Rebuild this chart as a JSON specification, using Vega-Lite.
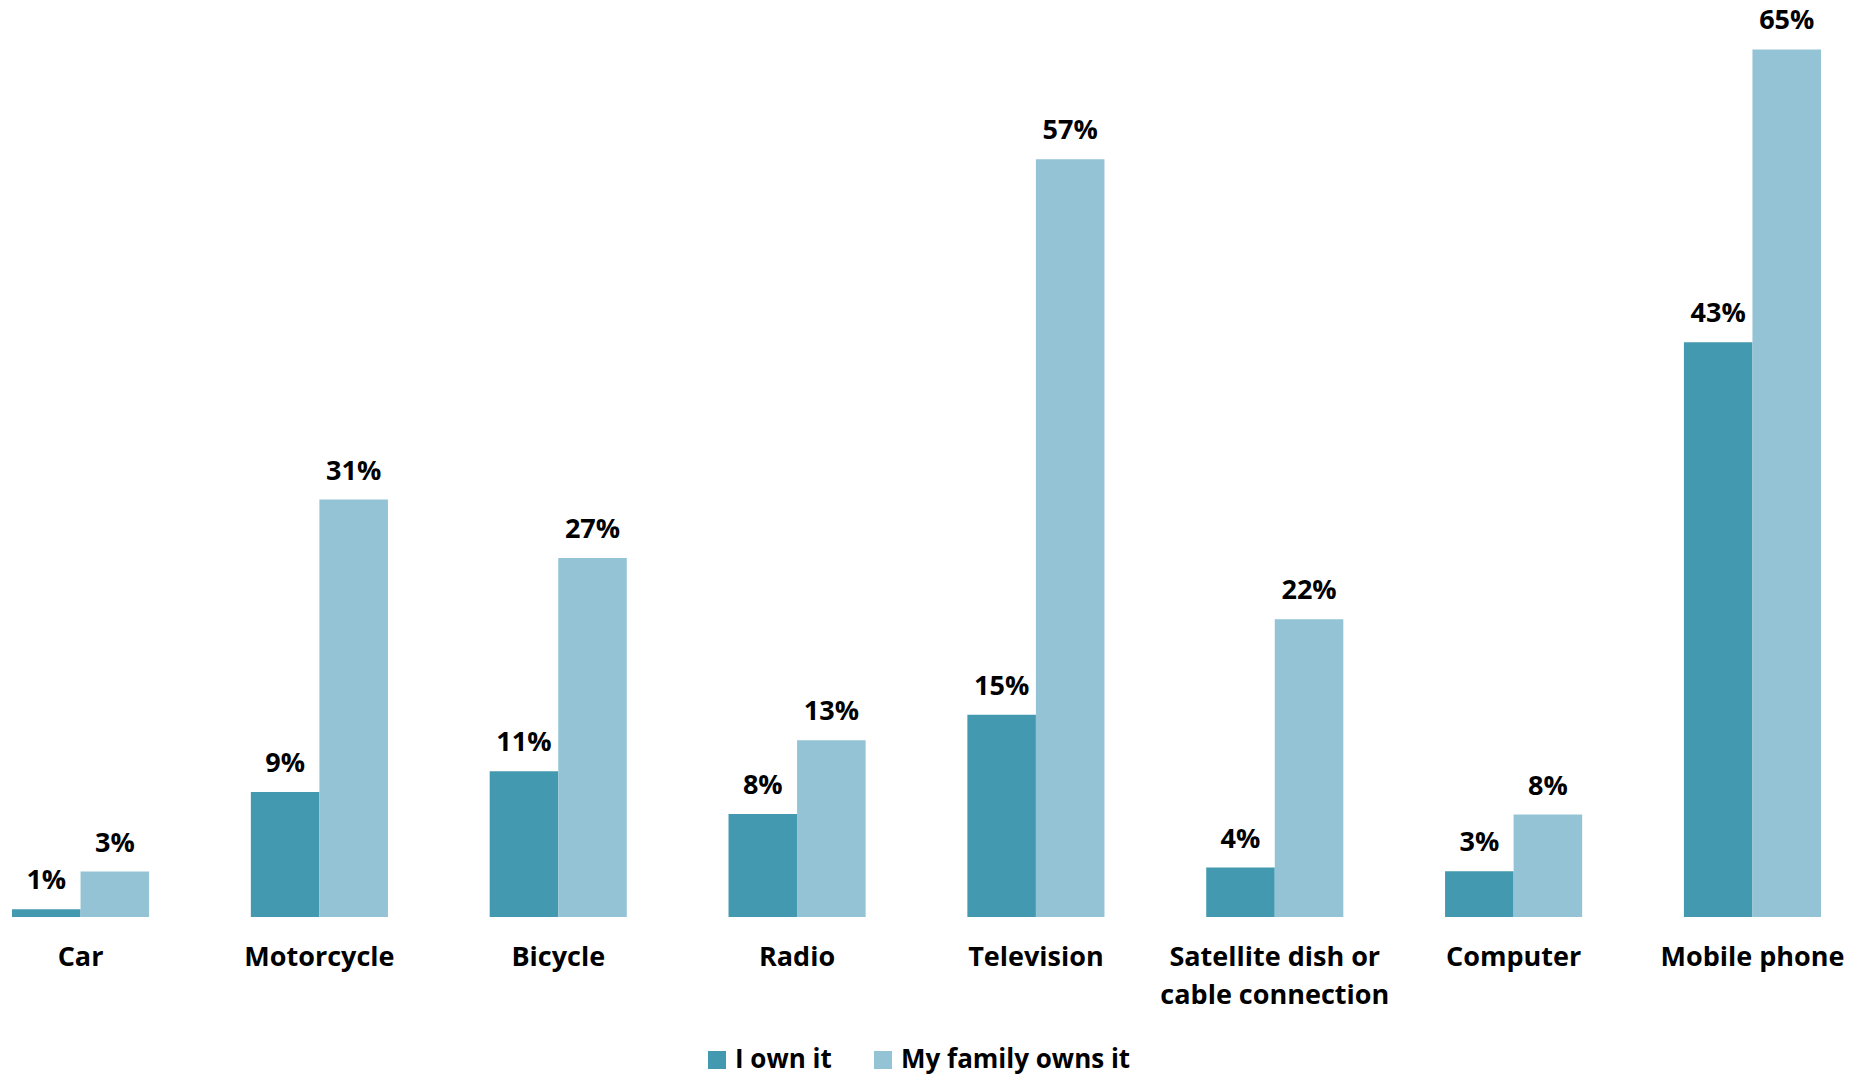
{
  "$schema": "https://vega.github.io/schema/vega-lite/v6.json",
  "autosize": {"type": "none"},
  "padding": {"left": 12, "top": 0, "right": 49, "bottom": 161},
  "width": 1809,
  "height": 917,
  "background": "white",
  "config": {
    "view": {"stroke": null},
    "font": "Open Sans"
  },
  "data": {
    "values": [
      {"item": "Car", "series": "I own it", "value": 0.0058},
      {"item": "Car", "series": "My family owns it", "value": 0.034},
      {"item": "Motorcycle", "series": "I own it", "value": 0.0936},
      {"item": "Motorcycle", "series": "My family owns it", "value": 0.3127},
      {"item": "Bicycle", "series": "I own it", "value": 0.1091},
      {"item": "Bicycle", "series": "My family owns it", "value": 0.2689},
      {"item": "Radio", "series": "I own it", "value": 0.0772},
      {"item": "Radio", "series": "My family owns it", "value": 0.1324},
      {"item": "Television", "series": "I own it", "value": 0.1516},
      {"item": "Television", "series": "My family owns it", "value": 0.5676},
      {"item": "Satellite dish or cable connection", "series": "I own it", "value": 0.037},
      {"item": "Satellite dish or cable connection", "series": "My family owns it", "value": 0.223},
      {"item": "Computer", "series": "I own it", "value": 0.0342},
      {"item": "Computer", "series": "My family owns it", "value": 0.0767},
      {"item": "Mobile phone", "series": "I own it", "value": 0.4305},
      {"item": "Mobile phone", "series": "My family owns it", "value": 0.65}
    ]
  },
  "encoding": {
    "x": {
      "field": "item",
      "type": "nominal",
      "sort": null,
      "scale": {"paddingInner": 0.426, "paddingOuter": 0},
      "axis": {
        "title": null,
        "domain": false,
        "ticks": false,
        "labelAngle": 0,
        "labelFont": "Open Sans",
        "labelFontWeight": "bold",
        "labelFontSize": 27,
        "labelColor": "#000000",
        "labelPadding": 27,
        "labelLineHeight": 38,
        "labelLimit": 0,
        "labelExpr": "datum.label == 'Satellite dish or cable connection' ? ['Satellite dish or', 'cable connection'] : datum.label"
      }
    },
    "xOffset": {"field": "series", "type": "nominal", "sort": ["I own it", "My family owns it"]},
    "y": {
      "field": "value",
      "type": "quantitative",
      "scale": {"domain": [0, 0.687], "nice": false, "zero": true},
      "axis": null
    }
  },
  "layer": [
    {
      "mark": {"type": "bar"},
      "encoding": {
        "color": {
          "field": "series",
          "type": "nominal",
          "sort": ["I own it", "My family owns it"],
          "scale": {"domain": ["I own it", "My family owns it"], "range": ["#4399AF", "#93C3D4"]},
          "legend": {
            "title": null,
            "orient": "none",
            "legendX": 692,
            "legendY": 1047,
            "direction": "horizontal",
            "padding": 0,
            "symbolType": "square",
            "symbolSize": 324,
            "symbolStrokeWidth": 0,
            "symbolOpacity": 1,
            "labelFont": "Open Sans",
            "labelFontWeight": "bold",
            "labelFontSize": 26,
            "labelColor": "#000000",
            "labelOffset": 5,
            "columnPadding": 38,
            "labelLimit": 0
          }
        }
      }
    },
    {
      "mark": {"type": "text", "baseline": "alphabetic", "dy": -20, "fontSize": 27, "fontWeight": "bold", "font": "Open Sans", "color": "#000000"},
      "encoding": {
        "text": {"field": "value", "type": "quantitative", "format": ".0%"}
      }
    }
  ]
}
